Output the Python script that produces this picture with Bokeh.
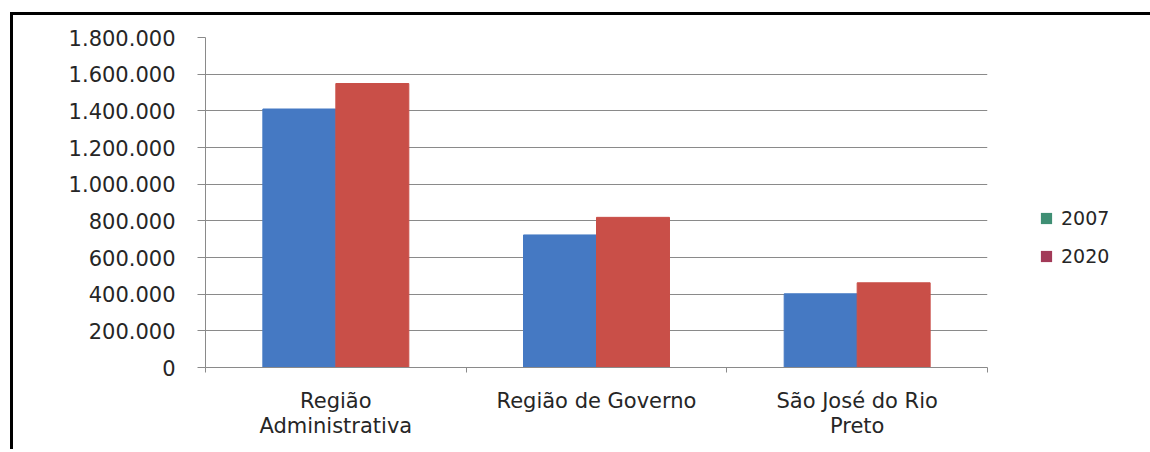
from bokeh.plotting import figure
from bokeh.models import (ColumnDataSource, Range1d, LinearAxis,
                          FixedTicker, Legend, LegendItem)
from bokeh.transform import dodge
from bokeh.embed import file_html
from bokeh.resources import INLINE

# ---- data ----
categories = ["Região\nAdministrativa", "Região de Governo", "São José do Rio\nPreto"]
series_names = ["2007", "2020"]
v2007 = [1410000, 723000, 402000]
v2020 = [1549000, 819000, 462000]
y_ticks = [0, 200000, 400000, 600000, 800000, 1000000, 1200000, 1400000, 1600000, 1800000]


def fmt(v):
    return "0" if v == 0 else f"{v:,}".replace(",", ".")


FONT = "DejaVu Sans"
TXT = "#262626"
GRID = "#8a8a8a"
BLUE = "#4579c3"
RED = "#c94f48"
LEG_GREEN = "#3f8f74"
LEG_RED = "#a23a58"

n = len(categories)
centers = [i + 0.5 for i in range(n)]
edges = list(range(n + 1))
src = ColumnDataSource(dict(pos=centers, a=v2007, b=v2020))

p = figure(x_range=Range1d(0, n), y_range=Range1d(0, y_ticks[-1]),
           frame_width=782, frame_height=330,
           min_border_left=192, min_border_right=151, min_border_top=22, min_border_bottom=82,
           x_axis_location=None, y_axis_location="left",
           output_backend="svg", toolbar_location=None)
p.styles = {"border-top": "3px solid #000", "border-left": "3px solid #000",
            "margin-top": "12px", "margin-left": "10px"}
p.outline_line_color = None
p.background_fill_color = "white"
p.border_fill_color = "white"
p.xgrid.visible = False
p.ygrid.ticker = FixedTicker(ticks=y_ticks)
p.ygrid.grid_line_color = GRID
p.ygrid.grid_line_width = 1

# y axis
ya = p.yaxis[0]
ya.ticker = FixedTicker(ticks=y_ticks)
ya.major_label_overrides = {t: fmt(t) for t in y_ticks}
ya.major_label_text_font = FONT
ya.major_label_text_font_size = "21px"
ya.major_label_text_color = TXT
ya.major_label_standoff = 22
ya.major_tick_in = 0
ya.major_tick_out = 8
ya.major_tick_line_color = GRID
ya.minor_tick_line_color = None
ya.axis_line_color = GRID

# category axis: labels at centres, small ticks (minor) at boundaries
cat_axis = LinearAxis(ticker=FixedTicker(ticks=centers, minor_ticks=edges),
                      major_label_overrides={c: lab for c, lab in zip(centers, categories)},
                      axis_line_color=GRID, major_tick_line_color=None,
                      minor_tick_line_color=GRID, minor_tick_in=0, minor_tick_out=5,
                      major_tick_in=0, major_tick_out=0,
                      major_label_standoff=16,
                      major_label_text_font=FONT,
                      major_label_text_font_size="21px",
                      major_label_text_color=TXT,
                      major_label_text_line_height=1.05)
p.add_layout(cat_axis, "below")

# bars
p.vbar(x=dodge("pos", -0.14), top="a", width=0.28, source=src,
       fill_color=BLUE, line_color=BLUE)
p.vbar(x=dodge("pos", 0.14), top="b", width=0.28, source=src,
       fill_color=RED, line_color=RED)

# legend (markers coloured as in the original)
nan = float("nan")
d1 = p.vbar(x=[nan], top=[nan], width=0.1, fill_color=LEG_GREEN, line_color=None)
d2 = p.vbar(x=[nan], top=[nan], width=0.1, fill_color=LEG_RED, line_color=None)
legend = Legend(items=[LegendItem(label=series_names[0], renderers=[d1]),
                       LegendItem(label=series_names[1], renderers=[d2])],
                location=(52, 100), orientation="vertical",
                border_line_color=None, background_fill_alpha=0,
                padding=0, margin=0, spacing=16, label_standoff=8,
                glyph_width=14, glyph_height=14, label_height=20,
                label_text_font=FONT, label_text_font_size="19px",
                label_text_color=TXT)
p.add_layout(legend, "right")

open("out.html", "w").write(file_html(p, INLINE))
